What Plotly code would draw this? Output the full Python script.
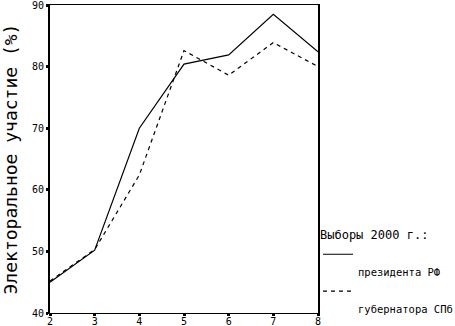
import plotly.graph_objects as go

x_vals = [2, 3, 4, 5, 6, 7, 8]
president = [45.0, 50.2, 70.0, 80.4, 81.9, 88.5, 82.4]
governor = [45.2, 50.3, 62.4, 82.6, 78.6, 83.9, 80.0]

y_ticks = [40, 50, 60, 70, 80, 90]
x_ticks = [2, 3, 4, 5, 6, 7, 8]

name_pres = "президента РФ"
name_gov = "губернатора СПб"
legend_title = "Выборы 2000 г.:"
y_title = "Электоральное участие (%)"

MONO = "DejaVu Sans Mono"


def legend_name(text):
    return "&nbsp;<br><span style='font-size:10.5px'>" + text + "</span>"


fig = go.Figure()
fig.add_trace(go.Scatter(
    x=x_vals, y=president, mode="lines", name=legend_name(name_pres),
    line=dict(color="black", width=1.2),
))
fig.add_trace(go.Scatter(
    x=x_vals, y=governor, mode="lines", name=legend_name(name_gov),
    line=dict(color="black", width=1.2, dash="4px,4px"),
))

fig.update_layout(
    width=455, height=326,
    margin=dict(l=50, r=137, t=5, b=13, autoexpand=False),
    paper_bgcolor="white", plot_bgcolor="white",
    font=dict(family=MONO, color="black", size=10),
    showlegend=True,
    legend=dict(
        x=1.0, xanchor="left", y=0.29, yanchor="top",
        valign="top",
        title=dict(text=legend_title, font=dict(size=12, family=MONO)),
        font=dict(size=13, family=MONO),
        tracegroupgap=0, itemwidth=30,
        bgcolor="rgba(0,0,0,0)",
    ),
    xaxis=dict(
        range=[2, 8], tickvals=x_ticks, ticktext=[str(v) for v in x_ticks],
        showgrid=False, zeroline=False,
        showline=True, linecolor="black", linewidth=1, mirror=True,
        ticks="outside", ticklen=2, tickwidth=3, tickcolor="black",
        tickfont=dict(size=10, family=MONO),
        ticklabelstandoff=-3,
        automargin=False,
    ),
    yaxis=dict(
        range=[40, 90], tickvals=y_ticks, ticktext=[str(v) for v in y_ticks],
        showgrid=False, zeroline=False,
        showline=True, linecolor="black", linewidth=2, mirror=True,
        ticks="outside", ticklen=2, tickwidth=3, tickcolor="black",
        tickfont=dict(size=10, family=MONO),
        ticklabeloverflow="allow",
        title=dict(text=y_title, font=dict(size=18, family=MONO), standoff=12),
        automargin=False,
    ),
)

fig.write_html(
    "out.html",
    config={"displayModeBar": False},
    post_script="document.body.style.margin='0';",
)
